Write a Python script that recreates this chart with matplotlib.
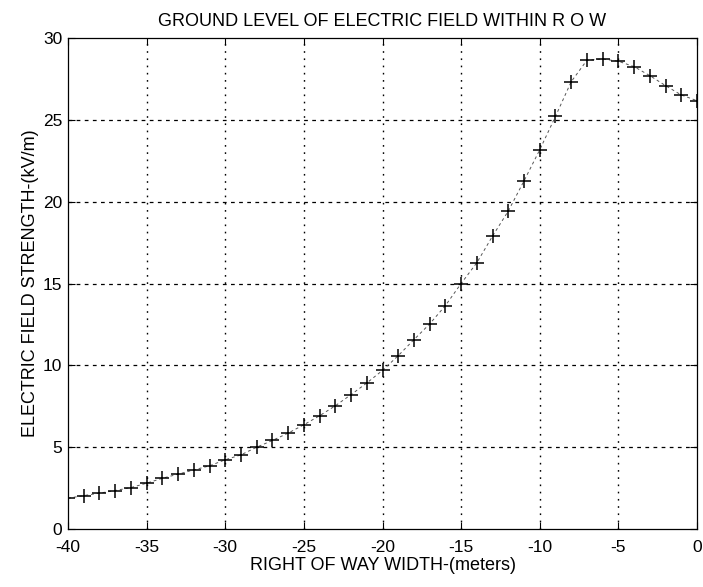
import matplotlib
matplotlib.use("Agg")
import matplotlib.pyplot as plt

width_m = [-40, -39, -38, -37, -36, -35, -34, -33, -32, -31, -30, -29, -28, -27,
           -26, -25, -24, -23, -22, -21, -20, -19, -18, -17, -16, -15, -14, -13,
           -12, -11, -10, -9, -8, -7, -6, -5, -4, -3, -2, -1, 0]
field_kv = [1.88, 2.04, 2.19, 2.35, 2.53, 2.80, 3.10, 3.35, 3.61, 3.86, 4.23, 4.53,
            5.00, 5.41, 5.86, 6.37, 6.92, 7.53, 8.21, 8.92, 9.69, 10.59, 11.57,
            12.53, 13.65, 15.00, 16.27, 17.90, 19.43, 21.27, 23.17, 25.21, 27.33,
            28.64, 28.72, 28.58, 28.25, 27.70, 27.09, 26.52, 26.17]
x_ticks = [-40, -35, -30, -25, -20, -15, -10, -5, 0]
y_ticks = [0, 5, 10, 15, 20, 25, 30]

plt.rcParams["font.family"] = ["Liberation Sans", "DejaVu Sans"]

fig = plt.figure(figsize=(7.03, 5.87), dpi=100)
ax = fig.add_axes([68/703, 1-529/587, (697-68)/703, (529-38)/587])

ax.plot(width_m, field_kv, linestyle=(0, (3, 3)), color="#555555", linewidth=0.7,
        marker="+", markersize=10.5, markeredgewidth=1.1, markeredgecolor="black")

ax.set_xlim(-40, 0)
ax.set_ylim(0, 30)
ax.set_xticks(x_ticks)
ax.set_yticks(y_ticks)
ax.set_xticklabels([str(v) for v in x_ticks])
ax.tick_params(direction="in", top=True, right=True, length=5, width=0.8,
               labelsize=12.5, colors="black")
ax.tick_params(axis="x", pad=8)
ax.tick_params(axis="y", pad=4)
for v in x_ticks[1:-1]:
    ax.axvline(v, color="black", linewidth=1.0, linestyle=(0, (1.2, 4)), zorder=0)
for v in y_ticks[1:-1]:
    ax.axhline(v, color="black", linewidth=0.9, linestyle=(0, (3, 3.5)), zorder=0)
for s in ax.spines.values():
    s.set_linewidth(0.9)
    s.set_color("black")

ax.set_title("GROUND LEVEL OF ELECTRIC FIELD WITHIN R O W", fontsize=13, pad=9)
ax.set_xlabel("RIGHT OF WAY WIDTH-(meters)", fontsize=13, labelpad=1)
ax.set_ylabel("ELECTRIC FIELD STRENGTH-(kV/m)", fontsize=13, labelpad=3)

fig.savefig("out.png", dpi=100)
